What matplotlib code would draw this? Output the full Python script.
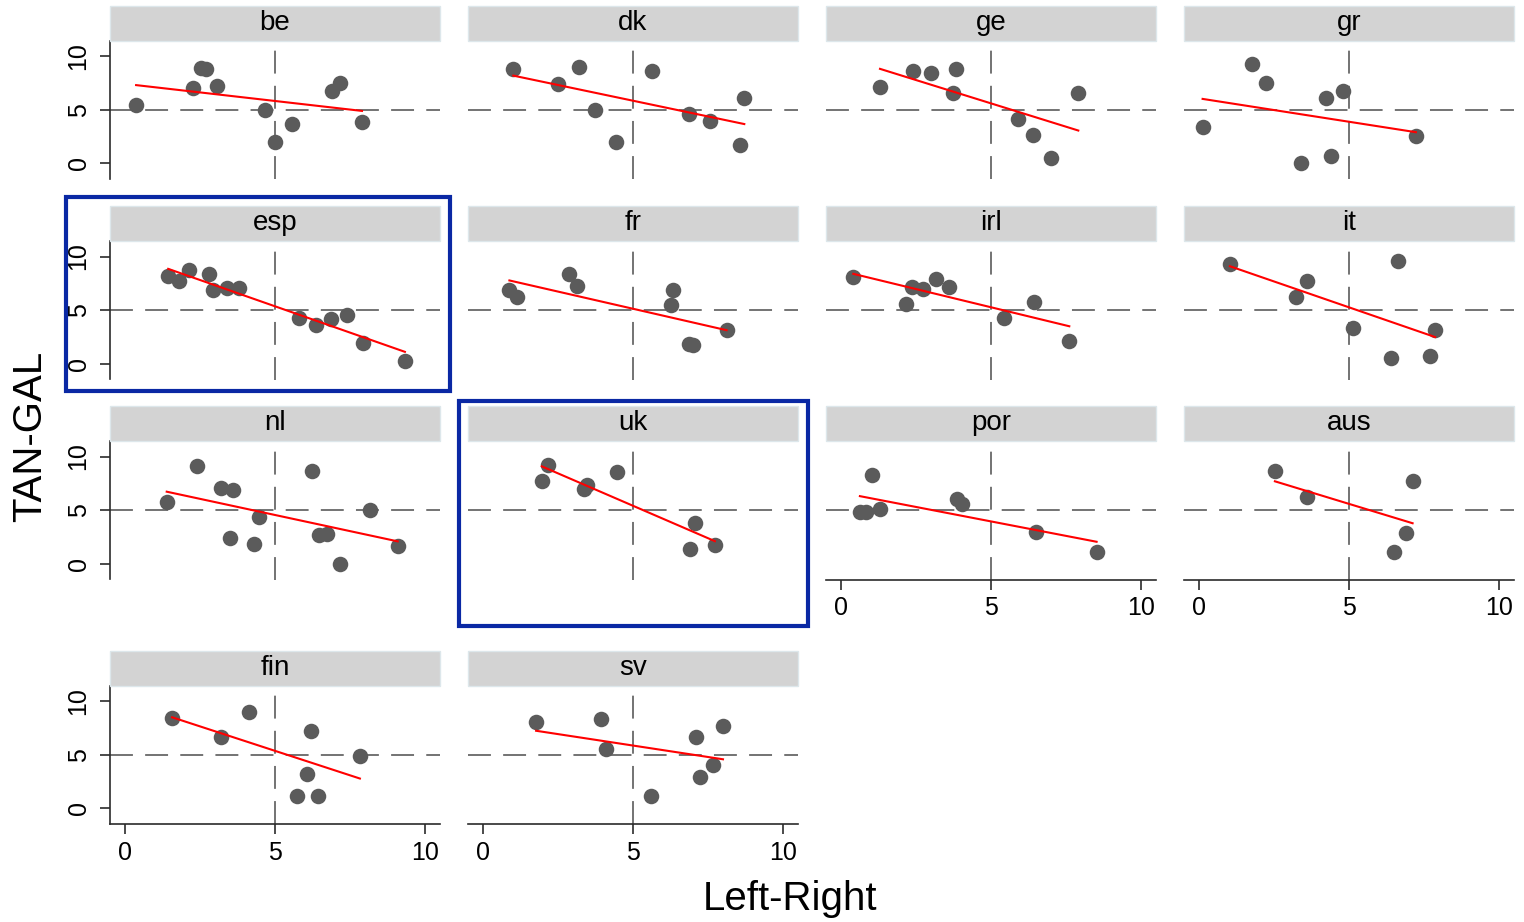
import numpy as np
import matplotlib
matplotlib.use("Agg")
import matplotlib.pyplot as plt
from matplotlib.patches import Rectangle

plt.rcParams['font.family'] = ['Liberation Sans', 'DejaVu Sans']

# Left-Right placement (x) and TAN-GAL placement (y) of parties, by country
be_lr = [0.37, 2.27, 2.53, 2.70, 3.07, 4.67, 5.00, 5.57, 6.90, 7.17, 7.90]
be_tg = [5.40, 7.00, 8.90, 8.80, 7.20, 5.00, 2.00, 3.70, 6.75, 7.50, 3.90]

dk_lr = [1.01, 2.51, 3.21, 3.73, 4.42, 5.64, 6.87, 7.57, 8.71, 8.57]
dk_tg = [8.82, 7.44, 9.00, 4.97, 1.97, 8.61, 4.60, 3.92, 6.08, 1.67]

ge_lr = [1.30, 2.41, 3.00, 3.82, 3.72, 5.89, 6.39, 7.00, 7.91]
ge_tg = [7.13, 8.61, 8.46, 8.82, 6.54, 4.14, 2.69, 0.49, 6.54]

gr_lr = [0.12, 1.78, 2.23, 4.23, 4.81, 3.39, 4.39, 7.23]
gr_tg = [3.36, 9.29, 7.50, 6.08, 6.76, 0.03, 0.65, 2.53]

esp_lr = [1.44, 1.80, 2.14, 2.80, 2.92, 3.39, 3.80, 5.80, 6.36, 6.87, 7.39, 7.92, 9.33]
esp_tg = [8.21, 7.74, 8.74, 8.37, 6.87, 7.03, 7.03, 4.31, 3.59, 4.15, 4.53, 1.93, 0.24]

fr_lr = [0.88, 1.14, 2.88, 3.12, 6.34, 6.26, 6.87, 7.01, 8.12]
fr_tg = [6.87, 6.24, 8.37, 7.24, 6.87, 5.46, 1.87, 1.72, 3.12]

irl_lr = [0.41, 2.36, 2.17, 2.74, 3.17, 3.60, 5.44, 6.44, 7.61]
irl_tg = [8.06, 7.18, 5.56, 6.96, 7.90, 7.12, 4.31, 5.72, 2.18]

it_lr = [1.03, 3.59, 3.23, 6.62, 5.14, 6.40, 7.87, 7.70]
it_tg = [9.31, 7.74, 6.24, 9.62, 3.34, 0.56, 3.12, 0.71]

nl_lr = [1.39, 2.39, 3.20, 3.61, 3.50, 4.31, 4.47, 6.24, 6.47, 6.72, 7.17, 8.17, 9.09]
nl_tg = [5.72, 9.15, 7.03, 6.90, 2.44, 1.81, 4.37, 8.62, 2.68, 2.81, 0.03, 5.00, 1.65]

uk_lr = [2.16, 1.96, 3.46, 3.38, 4.48, 7.07, 6.90, 7.73]
uk_tg = [9.24, 7.68, 7.37, 6.96, 8.53, 3.84, 1.41, 1.74]

por_lr = [0.63, 0.82, 1.02, 1.30, 3.86, 4.02, 6.50, 8.52]
por_tg = [4.87, 4.87, 8.28, 5.09, 6.03, 5.62, 3.00, 1.09]

aus_lr = [2.53, 3.61, 7.12, 6.90, 6.51]
aus_tg = [8.62, 6.19, 7.74, 2.90, 1.09]

fin_lr = [1.57, 3.20, 4.13, 6.20, 6.07, 5.73, 6.43, 7.83]
fin_tg = [8.43, 6.67, 8.98, 7.22, 3.24, 1.20, 1.20, 4.90]

sv_lr = [1.77, 3.93, 4.10, 5.60, 7.10, 7.23, 7.67, 8.00]
sv_tg = [8.06, 8.33, 5.56, 1.20, 6.67, 2.96, 4.07, 7.69]

countries = ["be", "dk", "ge", "gr", "esp", "fr", "irl", "it",
             "nl", "uk", "por", "aus", "fin", "sv"]
lr_values = [be_lr, dk_lr, ge_lr, gr_lr, esp_lr, fr_lr, irl_lr, it_lr,
             nl_lr, uk_lr, por_lr, aus_lr, fin_lr, sv_lr]
tg_values = [be_tg, dk_tg, ge_tg, gr_tg, esp_tg, fr_tg, irl_tg, it_tg,
             nl_tg, uk_tg, por_tg, aus_tg, fin_tg, sv_tg]
highlighted = ["esp", "uk"]
with_x_axis = ["por", "aus", "fin", "sv"]

tick_values = [0, 5, 10]
tick_labels = ["0", "5", "10"]

W, H = 1524, 922
fig = plt.figure(figsize=(W / 100, H / 100), dpi=100)

col_left = [110, 468, 826, 1184]
row_top = [41, 241.5, 441.5, 686]
ax_w, ax_h = 330, 138
strip_h = 35

axis_color = "#2b2b2b"
ref_color = "#4d4d4d"
dot_color = "#5b5b5b"


def frac_rect(left, top, width, height):
    return [left / W, 1 - (top + height) / H, width / W, height / H]


for i, (name, x, y) in enumerate(zip(countries, lr_values, tg_values)):
    r, c = divmod(i, 4)
    left, top = col_left[c], row_top[r]
    ax = fig.add_axes(frac_rect(left, top, ax_w, ax_h))
    ax.set_xlim(-0.5, 10.5)
    ax.set_ylim(-1.45, 11.4)
    ax.patch.set_alpha(0)

    ax.axhline(5, color=ref_color, lw=1.1, dashes=(15, 8), zorder=1)
    ax.axvline(5, color=ref_color, lw=1.1, dashes=(15, 8), zorder=1)

    x = np.asarray(x)
    y = np.asarray(y)
    ax.scatter(x, y, s=125, color=dot_color, linewidths=0, zorder=3)

    slope, intercept = np.polyfit(x, y, 1)
    xs = np.array([x.min(), x.max()])
    ax.plot(xs, intercept + slope * xs, color="red", lw=1.5, zorder=4)

    for side in ("top", "right", "left", "bottom"):
        ax.spines[side].set_visible(False)

    if c == 0:
        ax.spines["left"].set_visible(True)
        ax.spines["left"].set_color(axis_color)
        ax.spines["left"].set_linewidth(1.2)
        ax.set_yticks(tick_values)
        ax.set_yticklabels(tick_labels, rotation=90, va="center")
        ax.tick_params(axis="y", length=7, width=1.2, color=axis_color,
                       labelsize=18, pad=7)
    else:
        ax.set_yticks([])

    if name in with_x_axis:
        ax.spines["bottom"].set_visible(True)
        ax.spines["bottom"].set_color(axis_color)
        ax.spines["bottom"].set_linewidth(1.2)
        ax.set_xticks(tick_values)
        ax.set_xticklabels(tick_labels)
        ax.tick_params(axis="x", length=7, width=1.2, color=axis_color,
                       labelsize=18, pad=5)
    else:
        ax.set_xticks([])

    # facet title strip
    fig.patches.append(Rectangle((left / W, 1 - top / H), ax_w / W, strip_h / H,
                                 transform=fig.transFigure, facecolor="#d3d3d3",
                                 edgecolor="#dde7eb", lw=1.0))
    fig.text((left + ax_w / 2) / W, 1 - (top - strip_h / 2 - 1) / H, name,
             ha="center", va="center", fontsize=20, color="black")

# blue frames around the highlighted countries
frames = {"esp": (66, 197, 450, 391), "uk": (459, 401, 808, 626)}
for name in highlighted:
    x0, y0, x1, y1 = frames[name]
    fig.patches.append(Rectangle((x0 / W, 1 - y1 / H), (x1 - x0) / W, (y1 - y0) / H,
                                 transform=fig.transFigure, fill=False,
                                 edgecolor="#0a28a4", lw=3.0))

fig.text(30 / W, 1 - 436 / H, "TAN-GAL", rotation=90, ha="center", va="center",
         fontsize=29)
fig.text(790 / W, 1 - 899 / H, "Left-Right", ha="center", va="center",
         fontsize=29)

fig.savefig("out.png", dpi=100)
